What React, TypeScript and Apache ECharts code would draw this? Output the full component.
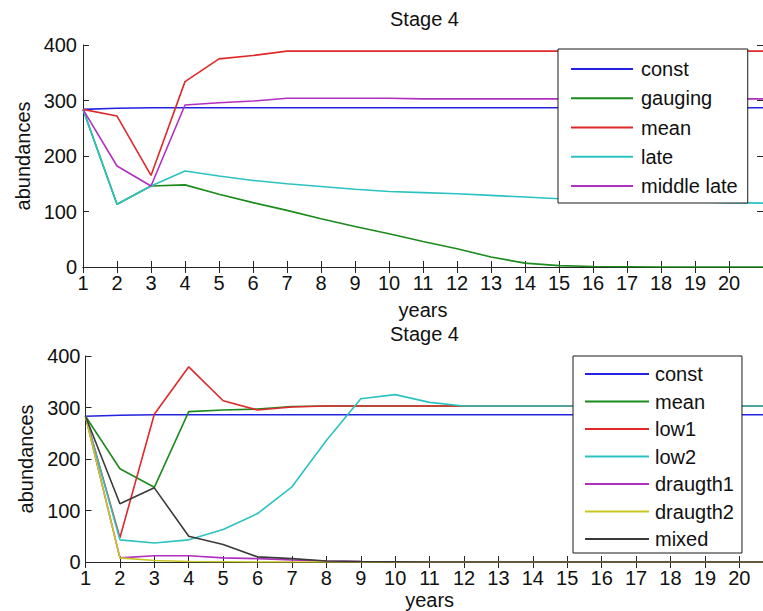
import React, { useEffect, useRef } from "react";
import * as echarts from "echarts";

const years = [1, 2, 3, 4, 5, 6, 7, 8, 9, 10, 11, 12, 13, 14, 15, 16, 17, 18, 19, 20, 21];
const xTickLabels = ["1", "2", "3", "4", "5", "6", "7", "8", "9", "10", "11", "12", "13", "14", "15", "16", "17", "18", "19", "20", ""];

// Top panel
const topNames = ["const", "gauging", "mean", "late", "middle late"];
const topConst = [284, 286, 287, 287, 287, 287, 287, 287, 287, 287, 287, 287, 287, 287, 287, 287, 287, 287, 287, 287, 287];
const topGauging = [284, 113, 146, 148, 131, 116, 102, 87, 73, 60, 46, 33, 18, 7, 2.5, 1, 0.5, 0, 0, 0, 0];
const topMean = [284, 272, 165, 334, 375, 381, 389, 389, 389, 389, 389, 389, 389, 389, 389, 389, 389, 389, 389, 389, 389];
const topLate = [284, 113, 146, 173, 164, 156, 150, 145, 140, 136, 134, 132, 129, 126, 123, 121, 120, 118, 117, 116, 115];
const topMiddleLate = [284, 182, 146, 292, 296, 299, 304, 304, 304, 304, 303, 303, 303, 303, 303, 303, 303, 303, 303, 303, 303];

// Bottom panel
const botNames = ["const", "mean", "low1", "low2", "draugth1", "draugth2", "mixed"];
const botConst = [283, 285, 286, 286, 286, 286, 286, 286, 286, 286, 286, 286, 286, 286, 286, 286, 286, 286, 286, 286, 286];
const botMean = [283, 181, 145, 292, 295, 297, 302, 303, 303, 303, 303, 303, 303, 303, 303, 303, 303, 303, 303, 303, 303];
const botLow1 = [283, 47, 287, 379, 313, 295, 301, 303, 303, 303, 303, 303, 303, 303, 303, 303, 303, 303, 303, 303, 303];
const botLow2 = [283, 43, 37, 43, 63, 94, 146, 236, 317, 325, 310, 303, 303, 303, 303, 303, 303, 303, 303, 303, 303];
const botDraugth1 = [283, 8, 12, 12, 8, 6.5, 4, 2, 1, 0.5, 0, 0, 0, 0, 0, 0, 0, 0, 0, 0, 0];
const botDraugth2 = [283, 8, 3, 1, 0.5, 0, 0, 0, 0, 0, 0, 0, 0, 0, 0, 0, 0, 0, 0, 0, 0];
const botMixed = [283, 113, 144, 50, 34, 10, 6.5, 2, 1, 0.5, 0, 0, 0, 0, 0, 0, 0, 0, 0, 0, 0];

const C_BLUE = "#2222e0";
const C_GREEN = "#1c8a1c";
const C_RED = "#e0282a";
const C_CYAN = "#2cc2c2";
const C_MAGENTA = "#b030c0";
const C_YELLOW = "#cac620";
const C_GRAY = "#3a3a3a";

const FONT = "'Liberation Sans', Arial, Helvetica, sans-serif";
const AXIS_COLOR = "#262626";
const W = 780;
const H = 611;

function pts(vals: number[]) {
  return years.map((x, i) => [x, vals[i]]);
}

function line(name: string, vals: number[], color: string, gi: number) {
  return {
    type: "line",
    name,
    xAxisIndex: gi * 2,
    yAxisIndex: gi * 2,
    data: pts(vals),
    symbol: "none",
    showSymbol: false,
    lineStyle: { color, width: 1.6 },
    itemStyle: { color },
    emphasis: { disabled: true },
  };
}

function xAxes(gi: number, gap: number) {
  return [
    {
      type: "value",
      gridIndex: gi,
      position: "bottom",
      min: 1,
      max: 21,
      interval: 1,
      name: "years",
      nameLocation: "middle",
      nameGap: gap,
      nameTextStyle: { fontSize: 20, color: "#111", fontFamily: FONT },
      axisLine: { show: true, lineStyle: { color: AXIS_COLOR, width: 1 } },
      axisTick: { show: true, inside: true, length: 6, lineStyle: { color: AXIS_COLOR } },
      axisLabel: {
        show: true,
        margin: 6,
        fontSize: 20,
        color: "#111",
        fontFamily: FONT,
        formatter: (v: number) => xTickLabels[years.indexOf(v)] ?? "",
      },
      splitLine: { show: false },
    },
    {
      type: "value",
      gridIndex: gi,
      position: "top",
      min: 1,
      max: 21,
      interval: 1,
      axisLine: { show: true, lineStyle: { color: AXIS_COLOR, width: 1 } },
      axisTick: { show: true, inside: true, length: 6, lineStyle: { color: AXIS_COLOR } },
      axisLabel: { show: false },
      splitLine: { show: false },
    },
  ];
}

function yAxes(gi: number, margin: number) {
  return [
    {
      type: "value",
      gridIndex: gi,
      position: "left",
      min: 0,
      max: 400,
      interval: 100,
      name: "abundances",
      nameLocation: "middle",
      nameGap: 50,
      nameRotate: 90,
      nameTextStyle: { fontSize: 20, color: "#111", fontFamily: FONT },
      axisLine: { show: true, lineStyle: { color: AXIS_COLOR, width: 1 } },
      axisTick: { show: true, inside: true, length: 6, lineStyle: { color: AXIS_COLOR } },
      axisLabel: { show: true, margin, fontSize: 20, color: "#111", fontFamily: FONT },
      splitLine: { show: false },
    },
    {
      type: "value",
      gridIndex: gi,
      position: "right",
      min: 0,
      max: 400,
      interval: 100,
      axisLine: { show: true, lineStyle: { color: AXIS_COLOR, width: 1 } },
      axisTick: { show: true, inside: true, length: 6, lineStyle: { color: AXIS_COLOR } },
      axisLabel: { show: false },
      splitLine: { show: false },
    },
  ];
}

export default function App() {
  const ref = useRef<HTMLDivElement>(null);

  useEffect(() => {
    if (!ref.current) return;
    const chart = echarts.init(ref.current, undefined, { renderer: "svg" });
    const B = "b:";
    const option = {
      animation: false,
      backgroundColor: "#ffffff",
      textStyle: { fontFamily: FONT },
      title: [
        {
          text: "Stage 4",
          left: 390,
          top: 9,
          padding: 0,
          textStyle: { fontSize: 20, fontWeight: "normal", color: "#111", fontFamily: FONT },
        },
        {
          text: "Stage 4",
          left: 390,
          top: 324,
          padding: 0,
          textStyle: { fontSize: 20, fontWeight: "normal", color: "#111", fontFamily: FONT },
        },
      ],
      grid: [
        { left: 83, right: W - 763, top: 45, height: 222, containLabel: false },
        { left: 85.5, right: W - 773.7, top: 356, height: 206.7, containLabel: false },
      ],
      xAxis: [...xAxes(0, 33), ...xAxes(1, 28)],
      yAxis: [...yAxes(0, 6), ...yAxes(1, 5)],
      legend: [
        {
          orient: "vertical",
          left: 558,
          top: 49,
          padding: [9, 10, 6, 13],
          itemGap: 7.25,
          itemWidth: 62,
          itemHeight: 2,
          icon: "rect",
          backgroundColor: "#ffffff",
          borderColor: "#1a1a1a",
          borderWidth: 1,
          borderRadius: 0,
          selectedMode: false,
          data: topNames,
          textStyle: { fontSize: 20, lineHeight: 22, color: "#111", fontFamily: FONT, padding: [0, 0, 0, 3] },
        },
        {
          orient: "vertical",
          left: 573,
          top: 356,
          padding: [7, 8, 3, 12],
          itemGap: 5.5,
          itemWidth: 64,
          itemHeight: 2,
          icon: "rect",
          backgroundColor: "#ffffff",
          borderColor: "#1a1a1a",
          borderWidth: 1,
          borderRadius: 0,
          selectedMode: false,
          data: botNames.map((n) => B + n),
          formatter: (n: string) => n.slice(2),
          textStyle: { fontSize: 20, lineHeight: 22, color: "#111", fontFamily: FONT, padding: [0, 0, 0, 1] },
        },
      ],
      series: [
        line(topNames[0], topConst, C_BLUE, 0),
        line(topNames[1], topGauging, C_GREEN, 0),
        line(topNames[2], topMean, C_RED, 0),
        line(topNames[3], topLate, C_CYAN, 0),
        line(topNames[4], topMiddleLate, C_MAGENTA, 0),
        line(B + botNames[0], botConst, C_BLUE, 1),
        line(B + botNames[1], botMean, C_GREEN, 1),
        line(B + botNames[2], botLow1, C_RED, 1),
        line(B + botNames[3], botLow2, C_CYAN, 1),
        line(B + botNames[4], botDraugth1, C_MAGENTA, 1),
        line(B + botNames[5], botDraugth2, C_YELLOW, 1),
        line(B + botNames[6], botMixed, C_GRAY, 1),
      ],
    };
    chart.setOption(option as any);
    return () => chart.dispose();
  }, []);

  return (
    <div
      style={{
        position: "fixed",
        left: 0,
        top: 0,
        width: 763,
        height: H,
        overflow: "hidden",
        background: "#fff",
      }}
    >
      <div ref={ref} style={{ width: W, height: H }} />
    </div>
  );
}
